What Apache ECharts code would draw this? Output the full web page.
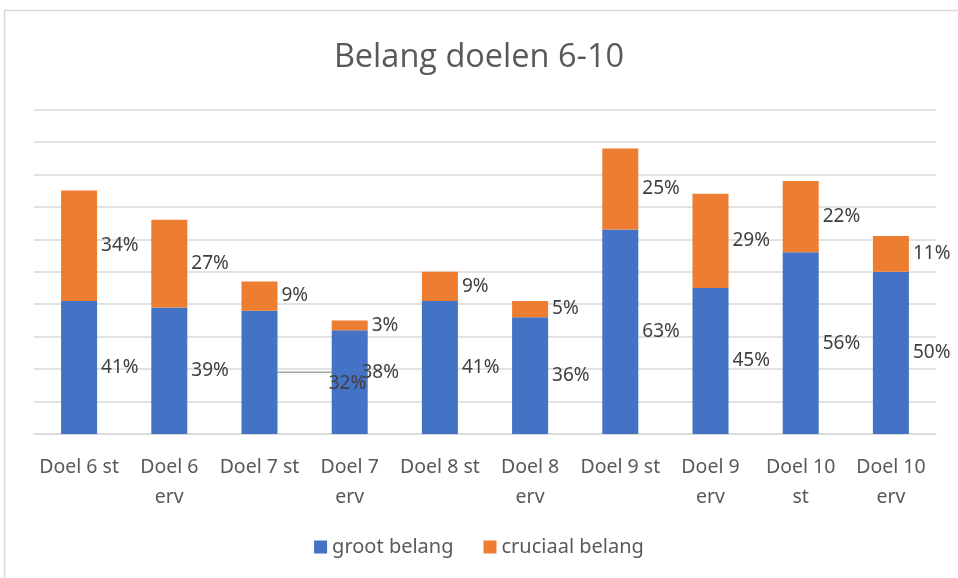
<!DOCTYPE html>
<html>
<head>
<meta charset="utf-8">
<script src="https://cdn.jsdelivr.net/npm/echarts@6/dist/echarts.min.js"></script>
<style>
  html, body { margin: 0; padding: 0; background: #fff; }
  #chart { width: 958px; height: 578px; }
</style>
</head>
<body>
<div id="chart"></div>
<script>
const categories = ['Doel 6 st', 'Doel 6\nerv', 'Doel 7 st', 'Doel 7\nerv', 'Doel 8 st', 'Doel 8\nerv', 'Doel 9 st', 'Doel 9\nerv', 'Doel 10\nst', 'Doel 10\nerv']
const grootBelang = [41, 39, 38, 32, 41, 36, 63, 45, 56, 50]
const cruciaalBelang = [34, 27, 9, 3, 9, 5, 25, 29, 22, 11]
const seriesNames = ['groot belang', 'cruciaal belang']

const textColor = '#595959'
const font = '"Noto Sans", "Open Sans", sans-serif'

const chart = echarts.init(document.getElementById('chart'))

const labelStyle = {
  show: true,
  position: 'right',
  distance: 4,
  formatter: p => p.value + '%',
  color: '#404040',
  fontSize: 19,
  fontFamily: font
}

chart.setOption({
  animation: false,
  title: {
    text: 'Belang doelen 6-10',
    left: 'center',
    top: 36,
    textStyle: {
      color: textColor,
      fontSize: 32.5,
      fontWeight: 'normal',
      fontFamily: '"Liberation Sans Narrow", "Open Sans", sans-serif'
    }
  },
  graphic: [{
    type: 'rect',
    shape: { x: 4.5, y: 10.5, width: 960, height: 580 },
    style: { fill: 'none', stroke: '#d9d9d9', lineWidth: 1.5 },
    silent: true
  }],
  legend: {
    bottom: 16,
    left: 'center',
    itemWidth: 13,
    itemHeight: 13,
    itemGap: 30,
    icon: 'rect',
    textStyle: { color: textColor, fontSize: 20, fontFamily: font }
  },
  grid: { left: 34, right: 22, top: 109.5, bottom: 144 },
  xAxis: {
    type: 'category',
    data: categories,
    axisLine: { lineStyle: { color: '#d9d9d9', width: 1.5 } },
    axisTick: { show: false },
    axisLabel: {
      color: textColor,
      fontSize: 19.5,
      fontFamily: font,
      margin: 18,
      lineHeight: 30,
      interval: 0
    }
  },
  yAxis: {
    type: 'value',
    min: 0,
    max: 100,
    interval: 10,
    axisLabel: { show: false },
    axisLine: { show: false },
    axisTick: { show: false },
    splitLine: { lineStyle: { color: '#d9d9d9', width: 1.5 } }
  },
  series: [
    {
      name: seriesNames[0],
      type: 'bar',
      stack: 'total',
      barWidth: 36,
      itemStyle: { color: '#4472C4' },
      label: labelStyle,
      labelLine: { show: false, lineStyle: { color: '#a6a6a6', width: 1.5 } },
      data: grootBelang.map((v, i) => i === 2
        ? { value: v, labelLine: { show: true, lineStyle: { color: '#a6a6a6', width: 1.5 } } }
        : v),
      labelLayout: p => {
        if (p.dataIndex === 2) return { dx: 80 }
        if (p.dataIndex === 3) return { dx: -43, dy: 2 }
        return {}
      },
      z: 2
    },
    {
      name: seriesNames[1],
      type: 'bar',
      stack: 'total',
      barWidth: 36,
      itemStyle: { color: '#ED7D31' },
      label: labelStyle,
      data: cruciaalBelang
    }
  ]
})
</script>
</body>
</html>
